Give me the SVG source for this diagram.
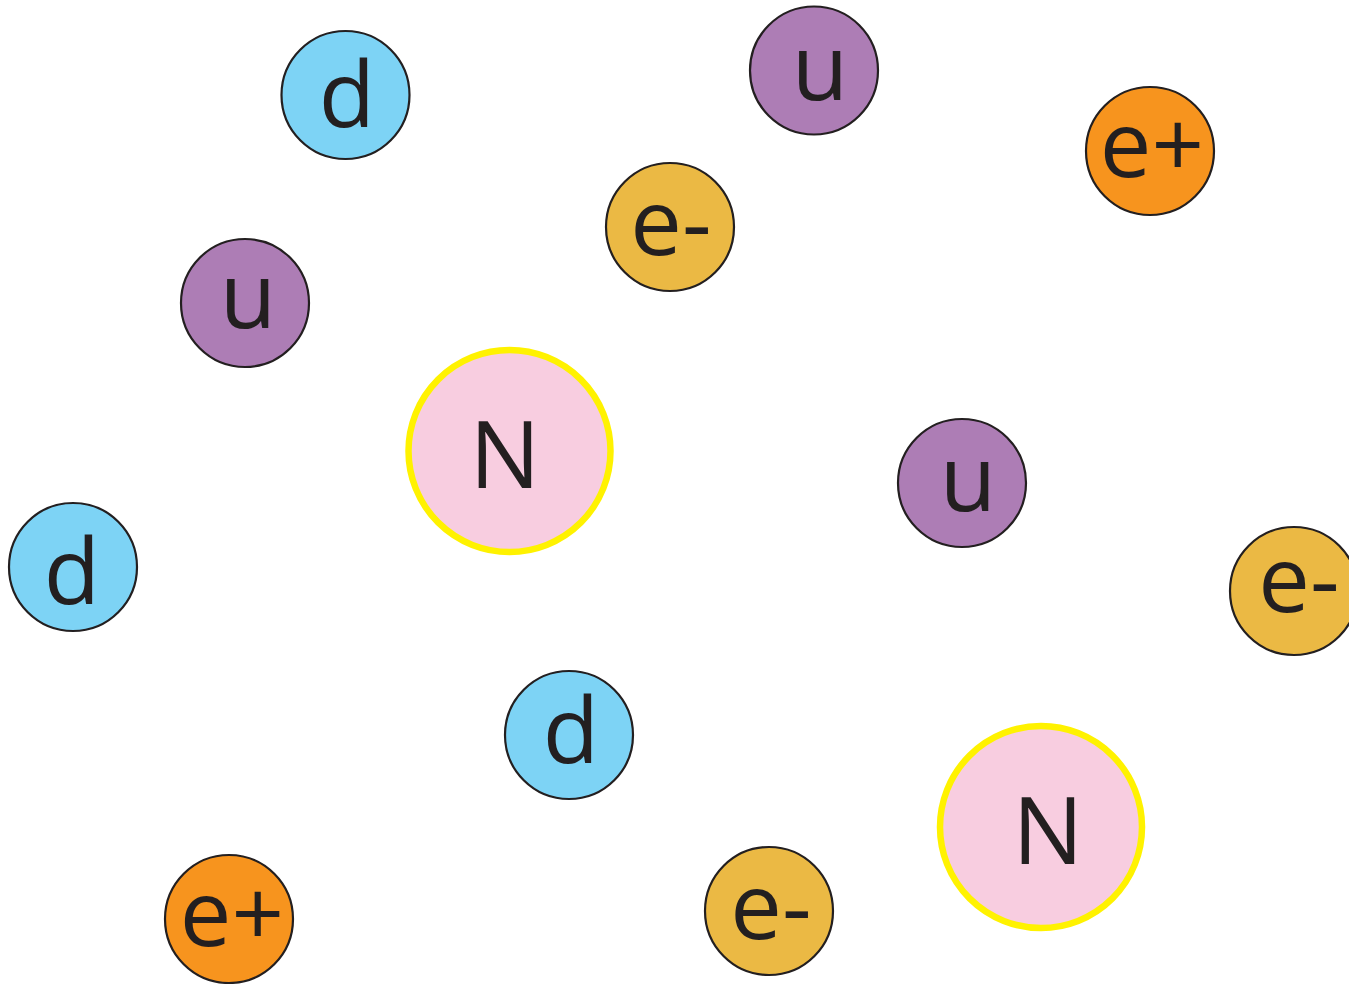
<svg xmlns="http://www.w3.org/2000/svg" width="1349" height="984" viewBox="0 0 1349 984">
<style>
.p{stroke:#231f20;stroke-width:2.2}
.n{fill:#f8cde0;stroke:#fff200;stroke-width:6.5}
.d{fill:#7dd3f5}
.u{fill:#ad7db5}
.ep{fill:#f7941e}
.em{fill:#ebb944}
text{font-family:"Open Sans","Noto Sans",sans-serif;font-size:92px;fill:#231f20;text-anchor:middle}
.nt{font-size:94px}
</style>
<rect width="1349" height="984" fill="#fff"/>
<g id="connectors"/>
<g id="d1"><circle class="p d" cx="345.5" cy="95" r="64"/><text x="347" y="127">d</text></g>
<g id="u1"><circle class="p u" cx="814" cy="70.5" r="64"/><text x="820" y="100">u</text></g>
<g id="ep1"><circle class="p ep" cx="1150" cy="151" r="64"/><text x="1152" y="177">e+</text></g>
<g id="em1"><circle class="p em" cx="670" cy="227" r="64"/><text x="671" y="255">e-</text></g>
<g id="u2"><circle class="p u" cx="245" cy="303" r="64"/><text x="248" y="328">u</text></g>
<g id="n1"><circle class="n" cx="509.5" cy="451" r="101"/><text class="nt" x="505" y="488">N</text></g>
<g id="u3"><circle class="p u" cx="962" cy="483" r="64"/><text x="968" y="511">u</text></g>
<g id="d2"><circle class="p d" cx="73" cy="567" r="64"/><text x="72" y="604">d</text></g>
<g id="em2"><circle class="p em" cx="1294" cy="591" r="64"/><text x="1299" y="612">e-</text></g>
<g id="d3"><circle class="p d" cx="569" cy="735" r="64"/><text x="571" y="763">d</text></g>
<g id="n2"><circle class="n" cx="1041" cy="827" r="101"/><text class="nt" x="1048" y="864">N</text></g>
<g id="ep2"><circle class="p ep" cx="229" cy="919" r="64"/><text x="232" y="946">e+</text></g>
<g id="em3"><circle class="p em" cx="769" cy="911" r="64"/><text x="771" y="939">e-</text></g>
</svg>
